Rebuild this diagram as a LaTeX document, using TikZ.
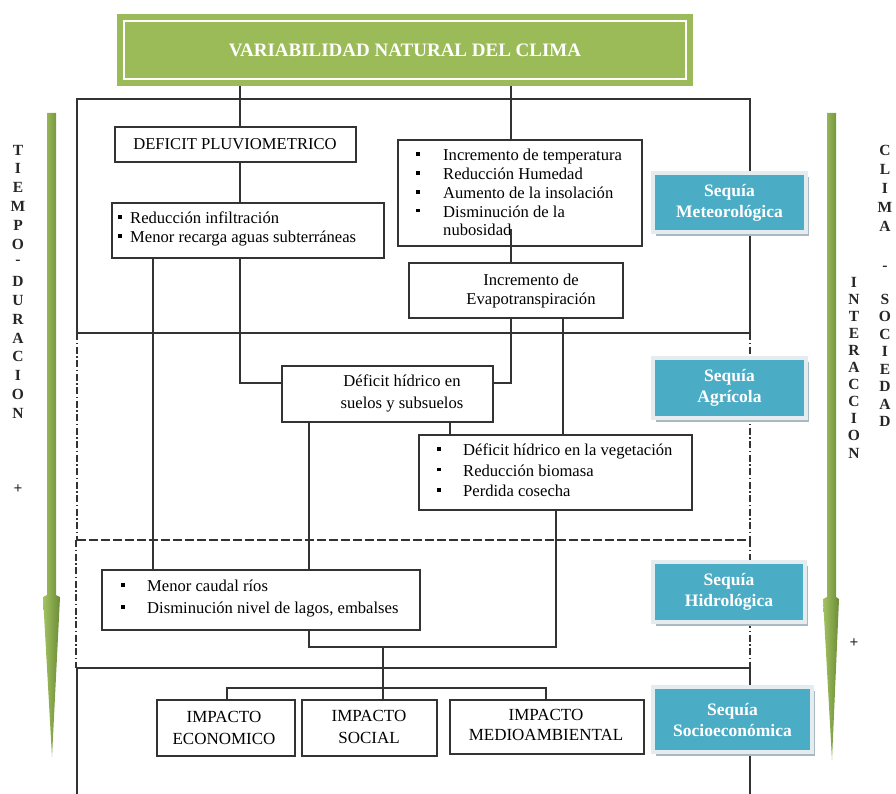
\documentclass[tikz,border=0pt]{standalone}
\usepackage{fontspec}
\setmainfont{Liberation Serif}
\usetikzlibrary{shadows}
\definecolor{tgreen}{HTML}{9BBB59}
\definecolor{agreenL}{HTML}{A3C262}
\definecolor{agreenD}{HTML}{6C8C36}
\definecolor{seqteal}{HTML}{4BACC6}
\definecolor{seqlight}{HTML}{E4ECF0}
\definecolor{seqshadow}{HTML}{A9B9C2}
\definecolor{ln}{HTML}{333333}
\newcommand\bul{\raisebox{0.28em}{\rule{3.8pt}{3.8pt}}}
\begin{document}
\begin{tikzpicture}[x=1pt,y=-1pt,
  frame/.style={draw=ln,line width=1.2pt,fill=white,inner sep=0pt},
  txt/.style={inner sep=0pt,font=\fontsize{16.6}{19}\selectfont,text=black},
  conn/.style={draw=ln,line width=1.2pt},
  region/.style={draw=ln,line width=1.2pt},
  regdash/.style={draw=ln,line width=1.2pt,dash pattern=on 9pt off 3pt},
  regdashv/.style={draw=ln,line width=1.2pt,dash pattern=on 7pt off 2.5pt on 1.5pt off 2.5pt},
  seq/.style={fill=seqteal,draw=seqlight,line width=4pt,text=white,align=center,
     font=\fontsize{17.5}{21}\bfseries,inner sep=0pt,
     drop shadow={shadow xshift=3pt,shadow yshift=-4pt,fill=seqshadow,opacity=1}},
  vlet/.style={inner sep=0pt,font=\fontsize{15.5}{15.5}\bfseries,text=black!85},
]
\useasboundingbox (0,0) rectangle (896,794);

% green arrows
\shade[left color=agreenL,right color=agreenD] (47,113) -- (56,113) -- (56,595) -- (60,597) -- (52,757) -- (43,597) -- (47,595) -- cycle;
\shade[left color=agreenL,right color=agreenD] (827,113) -- (836,113) -- (836,597) -- (839,599) -- (832,760) -- (823,599) -- (827,597) -- cycle;

% side texts
\foreach \c [count=\i from 0] in {T,I,E,M,P,O,-,D,U,R,A,C,I,O,N}
  \node[vlet] (tl\i) at (18,150+18.8*\i) {\c};
\node[vlet] (plusL) at (18,489) {+};
\foreach \c [count=\i from 0] in {C,L,I,M,A}
  \node[vlet] (cl\i) at (885,150+19*\i) {\c};
\node[vlet] (cldash) at (885,268) {-};
\foreach \c [count=\i from 0] in {S,O,C,I,E,D,A,D}
  \node[vlet] (so\i) at (885,299+17.5*\i) {\c};
\foreach \c [count=\i from 0] in {I,N,T,E,R,A,C,C,I,O,N}
  \node[vlet] (in\i) at (854,282+17.1*\i) {\c};
\node[vlet] (plusR) at (854,643) {+};

% regions
\draw[region] (77,333) -- (77,99) -- (750,99) -- (750,333) -- cycle;
\draw[regdashv] (77,333) -- (77,540);
\draw[regdashv] (750,333) -- (750,540);
\draw[regdash] (77,540) -- (750,540);
\draw[regdashv] (76,540) -- (76,668);
\draw[regdashv] (750,540) -- (750,668);
\draw[region] (77,794) -- (77,668) -- (750,668) -- (750,794);

% title
\node[fill=tgreen,minimum width=576pt,minimum height=72pt,inner sep=0pt] (title) at (405,50) {};
\draw[white,line width=2.5pt] (124,21) rectangle (686,79);
\node[inner sep=0pt,text=white,font=\fontsize{19}{22}\bfseries] (titletxt) at (405,50) {VARIABILIDAD NATURAL DEL CLIMA};

% coordinates for connector lines
\coordinate (xL) at (240,0);
\coordinate (xR) at (511,0);
\coordinate (xI) at (153,0);
\coordinate (xE) at (563,0);
\coordinate (xP) at (309,0);
\coordinate (xQ) at (450,0);
\coordinate (xV) at (556,0);
\coordinate (xEc) at (227,0);
\coordinate (xMe) at (546,0);
\coordinate (yD) at (0,383);
\coordinate (hub) at (383,647);
\coordinate (hub2) at (383,688);
\coordinate (tn) at (511,229);

% boxes
\node[frame,minimum width=241pt,minimum height=35pt] (pluv) at (235.5,144.5) {};
\node[frame,minimum width=272pt,minimum height=55pt] (infil) at (248,230.5) {};
\node[frame,minimum width=244pt,minimum height=106pt] (temp) at (520,193) {};
\node[frame,minimum width=214pt,minimum height=55pt] (evap) at (516,290.5) {};
\node[frame,minimum width=211pt,minimum height=56pt] (def) at (387.5,394) {};
\node[frame,minimum width=273pt,minimum height=75pt] (veg) at (555.5,472.5) {};
\node[frame,minimum width=318pt,minimum height=60pt] (caudal) at (261,600) {};
\node[frame,minimum width=138pt,minimum height=56pt] (eco) at (226,728) {};
\node[frame,minimum width=135pt,minimum height=56pt] (soc) at (369.5,728) {};
\node[frame,minimum width=194pt,minimum height=54pt] (med) at (547,727) {};

% connectors
\draw[conn] (title.south -| xL) -- (pluv.north -| xL);
\draw[conn] (pluv.south -| xL) -- (infil.north -| xL);
\draw[conn] (infil.south -| xI) -- (caudal.north -| xI);
\draw[conn] (infil.south -| xL) |- (def.west |- yD);
\draw[conn] (title.south -| xR) -- (temp.north -| xR);
\draw[conn] (evap.south -| xR) |- (def.east |- yD);
\draw[conn] (evap.south -| xE) -- (veg.north -| xE);
\draw[conn] (def.south -| xP) -- (caudal.north -| xP);
\draw[conn] (def.south -| xQ) -- (veg.north -| xQ);
\draw[conn] (caudal.south -| xP) |- (hub) -| (veg.south -| xV);
\draw[conn] (hub) -- (soc.north -| hub);
\draw[conn] (eco.north -| xEc) |- (hub2) -| (med.north -| xMe);

% texts
\node[txt] (pluvtxt) at (235,144.5) {DEFICIT PLUVIOMETRICO};
\node[txt,anchor=west] (infiltxt) at (118,229.5) {\begin{tabular}{@{}p{12pt}@{}l@{}}\bul & Reducción infiltración\\ \bul & Menor recarga aguas subterráneas\end{tabular}};
\node[txt,anchor=west,font=\fontsize{16.6}{18.8}\selectfont] (temptxt) at (416,194.5) {\begin{tabular}{@{}p{27pt}@{}l@{}}\bul & Incremento de temperatura\\ \bul & Reducción Humedad\\ \bul & Aumento de la insolación\\ \bul & Disminución de la\\ & nubosidad\end{tabular}};
\draw[conn] (tn) -- (evap.north -| xR);
\node[txt,align=center] (evaptxt) at (531,291.5) {Incremento de\\Evapotranspiración};
\node[txt,align=center,font=\fontsize{16.6}{22}\selectfont] (deftxt) at (402,393.5) {Déficit hídrico en\\suelos y subsuelos};
\node[txt,anchor=west,font=\fontsize{16.6}{20.5}\selectfont] (vegtxt) at (437,472) {\begin{tabular}{@{}p{26pt}@{}l@{}}\bul & Déficit hídrico en la vegetación\\ \bul & Reducción biomasa\\ \bul & Perdida cosecha\end{tabular}};
\node[txt,anchor=west,font=\fontsize{16.6}{22}\selectfont] (caudaltxt) at (121,598) {\begin{tabular}{@{}p{26pt}@{}l@{}}\bul & Menor caudal ríos\\ \bul & Disminución nivel de lagos, embalses\end{tabular}};
\node[txt,align=center,font=\fontsize{17}{22}\selectfont] (ecotxt) at (224,728) {IMPACTO\\ECONOMICO};
\node[txt,align=center,font=\fontsize{17}{22}\selectfont] (soctxt) at (369,727) {IMPACTO\\SOCIAL};
\node[txt,align=center,font=\fontsize{17}{20}\selectfont] (medtxt) at (546,725) {IMPACTO\\MEDIOAMBIENTAL};

% sequia boxes
\node[seq,minimum width=153pt,minimum height=59pt] (smet) at (729.5,202.5) {Sequía\\Meteorológica};
\node[seq,minimum width=153pt,minimum height=60pt] (sagr) at (729.5,388) {Sequía\\Agrícola};
\node[seq,minimum width=152pt,minimum height=60pt] (shid) at (729,592) {Sequía\\Hidrológica};
\node[seq,minimum width=159pt,minimum height=65pt] (ssoc) at (732.5,719.5) {Sequía\\Socioeconómica};
\end{tikzpicture}
\end{document}
